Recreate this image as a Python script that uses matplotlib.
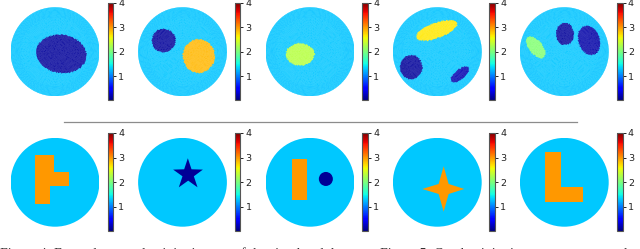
#!/usr/bin/env python3
import numpy as np
import matplotlib
matplotlib.use("Agg")
import matplotlib.pyplot as plt
from matplotlib.cm import ScalarMappable
from matplotlib.colors import Normalize
from matplotlib.lines import Line2D
from matplotlib.patches import Circle, Polygon
from matplotlib.tri import Triangulation

WIDTH, HEIGHT = 640, 249

# conductivity values
VMIN, VMAX = 0.02, 4.0
BG_TOP = 1.3
BG_BOTTOM = 1.3
cbar_ticks = [1, 2, 3, 4]

# top row: one list per panel, (x, y, semi_a, semi_b, tilt_deg, value) in disc units
top_panel_1 = [(0.14, -0.05, 0.57, 0.43, -8, 0.12)]
top_panel_2 = [(-0.425, 0.25, 0.27, 0.265, 0, 0.12), (0.366, -0.097, 0.38, 0.36, 90, 2.86)]
top_panel_3 = [(-0.22, -0.06, 0.32, 0.25, 0, 2.3)]
top_panel_4 = [(-0.015, 0.48, 0.49, 0.17, 20, 2.65), (-0.59, -0.35, 0.27, 0.25, 90, 0.12),
               (0.51, -0.51, 0.25, 0.11, 40, 0.2)]
top_panel_5 = [(-0.64, 0.10, 0.29, 0.15, -50, 2.05), (0.015, 0.40, 0.25, 0.20, 90, 0.12),
               (0.556, 0.256, 0.34, 0.24, -72, 0.17)]
top_panels = [top_panel_1, top_panel_2, top_panel_3, top_panel_4, top_panel_5]

# bottom row: polygon outlines, in zoomed pixels relative to disc centre (r = 133)
tee_shape = [(-59, 82), (-3, 82), (-3, 31), (41, 31), (41, -11), (-16, -11), (-16, -66), (-59, -66)]
star_shape = [(16, 72), (27, 39), (61, 38), (34, 18), (45, -15), (17, 5),
              (-11, -15), (0, 18), (-28, 38), (5, 39)]
rect_shape = [(-55, 71), (-8, 71), (-8, -53), (-55, -53)]
spike_shape = [(19, 48), (34, -5), (81, -20), (34, -35), (19, -88), (4, -35),
               (-45, -20), (4, -5)]
ell_shape = [(-58, 90), (-10, 90), (-10, -14), (57, -14), (57, -59), (-58, -59)]
bottom_shapes = [(tee_shape, 3.0), (star_shape, 0.1), (rect_shape, 3.0),
                 (spike_shape, 3.0), (ell_shape, 3.0)]
dot_x, dot_y, dot_r, dot_value = 47.5, 10, 21, 0.1
DISC_SCALE = 133.0

# layout in pixels
centers_x = [55.0, 182.5, 310.0, 437.3, 564.3]
colorbar_x = [107.5, 234.7, 362.3, 489.3, 617.0]
CY_TOP, CY_BOTTOM = 51.7, 182.3
RADIUS = 44.4
CB_W = 5.6
CB_TOP_Y = (2.7, 100.2)
CB_BOTTOM_Y = (133.0, 231.0)

norm = Normalize(VMIN, VMAX)
cmap = plt.get_cmap("jet")


def px_axes(fig, x0, y0, x1, y1):
    # pixel box, y measured from the top of the image
    return fig.add_axes([x0 / WIDTH, 1 - y1 / HEIGHT, (x1 - x0) / WIDTH, (y1 - y0) / HEIGHT])


def disc_axes(fig, cx, cy):
    ax = px_axes(fig, cx - RADIUS, cy - RADIUS, cx + RADIUS, cy + RADIUS)
    ax.set_xlim(-1, 1)
    ax.set_ylim(-1, 1)
    ax.axis("off")
    return ax


def add_colorbar(fig, x, y_range):
    cax = px_axes(fig, x, y_range[0], x + CB_W, y_range[1])
    cb = fig.colorbar(ScalarMappable(norm=norm, cmap=cmap), cax=cax, ticks=cbar_ticks)
    cb.outline.set_linewidth(0.8)
    cb.outline.set_edgecolor("#555555")
    cb.ax.tick_params(length=2, width=0.7, pad=1.8, labelsize=6.8, colors="#222222")
    return cb


def ring_mesh():
    # concentric rings, coarser in the middle like the FEM mesh of the original
    xs, ys = [0.0], [0.0]
    radii = np.concatenate([np.linspace(0.03, 0.78, 24), np.linspace(0.795, 1.0, 11)])
    for i, rad in enumerate(radii):
        n = max(6, int(2 * np.pi * rad / (0.032 if rad < 0.78 else 0.02)))
        ang = np.linspace(0, 2 * np.pi, n, endpoint=False) + i * 0.37
        xs.extend(rad * np.cos(ang))
        ys.extend(rad * np.sin(ang))
    return Triangulation(np.array(xs), np.array(ys))


def mesh_values(tri, blobs):
    cx = tri.x[tri.triangles].mean(axis=1)
    cy = tri.y[tri.triangles].mean(axis=1)
    vals = np.full(len(cx), BG_TOP)
    for x0, y0, a, b, tilt, value in blobs:
        t = np.deg2rad(tilt)
        u = (cx - x0) * np.cos(t) + (cy - y0) * np.sin(t)
        v = -(cx - x0) * np.sin(t) + (cy - y0) * np.cos(t)
        vals[(u / a) ** 2 + (v / b) ** 2 <= 1] = value
    return vals


def main():
    fig = plt.figure(figsize=(WIDTH / 100, HEIGHT / 100), dpi=100, facecolor="white")
    tri = ring_mesh()

    for cx, cbx, blobs in zip(centers_x, colorbar_x, top_panels):
        ax = disc_axes(fig, cx, CY_TOP)
        # thin edges close most of the seams, what is left gives the light speckle
        ax.tripcolor(tri, facecolors=mesh_values(tri, blobs), cmap=cmap, norm=norm,
                     antialiased=True, edgecolors="face", linewidth=0.06)
        add_colorbar(fig, cbx, CB_TOP_Y)

    for i, (cx, cbx, (shape, value)) in enumerate(zip(centers_x, colorbar_x, bottom_shapes)):
        ax = disc_axes(fig, cx, CY_BOTTOM)
        ax.add_patch(Circle((0, 0), 1.0, fc=cmap(norm(BG_BOTTOM)), ec="none"))
        ax.add_patch(Polygon(np.array(shape) / DISC_SCALE, fc=cmap(norm(value)), ec="none"))
        if i == 2:
            ax.add_patch(Circle((dot_x / DISC_SCALE, dot_y / DISC_SCALE), dot_r / DISC_SCALE,
                                fc=cmap(norm(dot_value)), ec="none"))
        add_colorbar(fig, cbx, CB_BOTTOM_Y)

    # separator between the rows
    fig.add_artist(Line2D([64 / WIDTH, 577 / WIDTH], [1 - 121.8 / HEIGHT] * 2,
                          color="#8c8c8c", lw=0.9))

    # caption, cut off by the bottom edge
    fig.text(0.0, 1 - 247.6 / HEIGHT, "Figure 4: Exemplary conductivity images of the simulated data.",
             family="Liberation Serif", fontsize=10, color="#333333", va="top", ha="left")
    fig.text(380 / WIDTH, 1 - 247.6 / HEIGHT, "Figure 5: Conductivity images reconstructed with the",
             family="Liberation Serif", fontsize=10, color="#333333", va="top", ha="left")

    fig.savefig("out.png", dpi=100)
    plt.close(fig)


if __name__ == "__main__":
    main()
